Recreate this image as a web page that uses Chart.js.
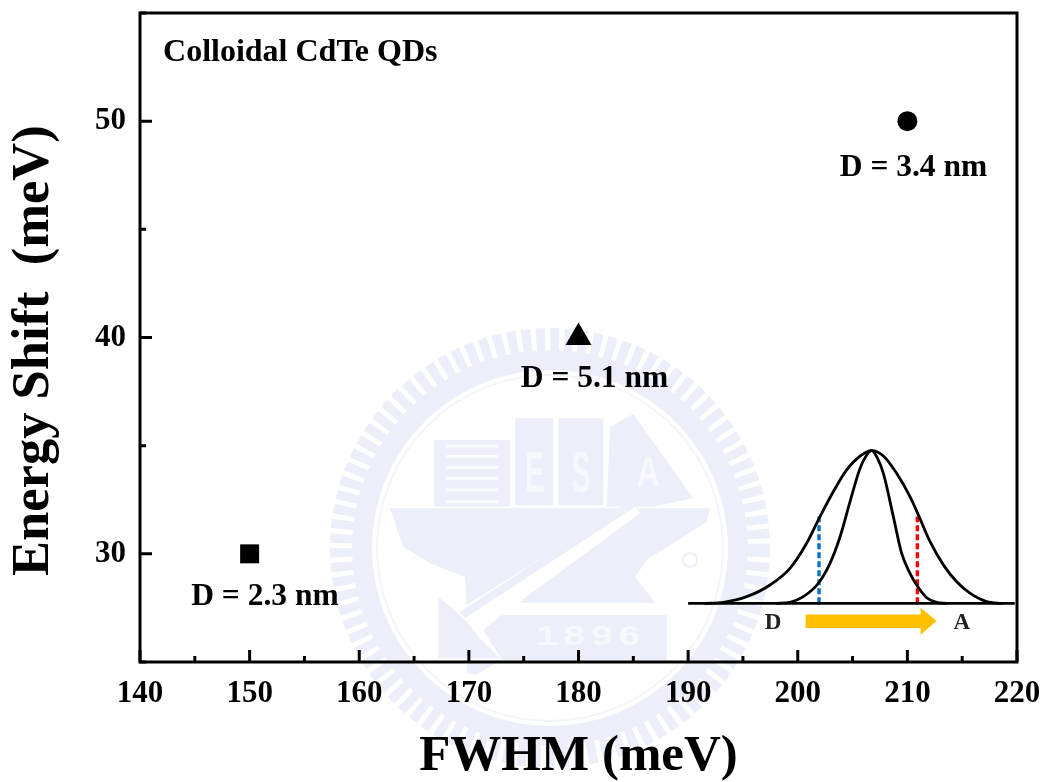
<!DOCTYPE html>
<html><head><meta charset="utf-8">
<style>html,body{margin:0;padding:0;background:#fff}canvas{display:block}</style>
<script src="https://cdn.jsdelivr.net/npm/chart.js@4"></script>
</head><body><canvas id="c" width="1048" height="782"></canvas>
<script>
const xLabelled = [140,150,160,170,180,190,200,210,220];
const yLabelled = [30,40,50];
const squarePoint = [{x:150,y:30}];
const circlePoint = [{x:210,y:50}];
const trianglePoint = [{x:180,y:40}];
const sizeLabels = ['D = 2.3 nm','D = 3.4 nm','D = 5.1 nm'];
const sizeLabelX = [151.4,210.56,181.46];
const sizeLabelY = [28.0,47.82,38.08];
const wideX = [191.5,193.21,195.34,197.47,199.29,200.81,202.03,203.25,204.46,205.68,206.74,207.81,209.02,210.24,211.0,212.07,213.28,214.5,215.71,217.23,218.7];
const wideY = [27.71,27.76,28.02,28.56,29.33,30.49,31.72,32.88,33.88,34.52,34.77,34.52,33.72,32.64,31.80,30.56,29.49,28.71,28.18,27.79,27.71];
const narrowX = [198,199.29,200.51,201.88,202.94,203.86,204.77,205.68,206.29,206.74,207.2,207.81,208.72,209.48,210.24,210.91,211.76,212.67,213.59];
const narrowY = [27.71,27.76,28.02,28.64,29.56,30.79,32.41,33.95,34.57,34.77,34.49,33.72,31.72,30.02,29.10,28.51,27.97,27.76,27.71];
const baseX = [190,219.8], baseY = [27.71,27.71];
const blueX = [201.94,201.94], blueY = [27.71,31.72];
const redX = [210.91,210.91], redY = [27.71,31.72];
const zip = (a,b)=>a.map((x,i)=>({x,y:b[i]}));
const SERIF = '"Liberation Serif"';

const wm = '#ECEFF9';
function poly(ctx,pts,fill){ctx.fillStyle=fill||wm;ctx.beginPath();
  pts.forEach((p,i)=>{const X=320+p[0]/3,Y=310+p[1]/3;i?ctx.lineTo(X,Y):ctx.moveTo(X,Y)});ctx.closePath();ctx.fill();}
function squeezed(ctx,s,x,y,k){ctx.save();ctx.translate(x,y);ctx.scale(k,1);ctx.fillText(s,0,0);ctx.restore();}
const plotFrame={id:'plotFrame',afterLayout(chart){
  const a=chart.chartArea,ys=chart.scales.y;
  a.top=13;a.height=a.bottom-13;
  ys.top=13;ys.height=a.bottom-13;ys.configure();
}};
const watermark={id:'watermark',beforeDraw(chart){
  const ctx=chart.ctx;ctx.save();ctx.fillStyle='#fff';ctx.fillRect(0,0,1048,782);
  const cx=550,cy=548;
  ctx.strokeStyle=wm;
  ctx.lineWidth=24;ctx.setLineDash([9,5]);ctx.beginPath();ctx.arc(cx,cy,208,0,Math.PI*2);ctx.stroke();
  ctx.setLineDash([]);ctx.lineWidth=20;ctx.beginPath();ctx.arc(cx,cy,188,0,Math.PI*2);ctx.stroke();
  ctx.lineWidth=2;ctx.strokeStyle='#F3F5FB';ctx.beginPath();ctx.arc(cx,cy,173,0,Math.PI*2);ctx.stroke();
  poly(ctx,[[342,390],[570,390],[570,590],[342,590]]);
  for(const y of [408,440,472,505,540,575]) poly(ctx,[[378,y-5],[535,y-5],[535,y+5],[378,y+5]],'#F9FAFD');
  poly(ctx,[[585,325],[700,325],[700,585],[585,585]]);
  poly(ctx,[[715,325],[850,325],[850,585],[715,585]]);
  poly(ctx,[[870,350],[940,312],[1120,565],[1000,590],[860,590]]);
  poly(ctx,[[210,595],[905,595],[440,885],[435,800],[330,760],[250,710]]);
  poly(ctx,[[1170,595],[1160,635],[1075,690],[985,745],[945,800],[1005,878],[595,878],[960,610],[950,595]]);
  poly(ctx,[[925,575],[945,590],[435,925],[420,905]]);
  poly(ctx,[[355,860],[430,925],[480,985],[540,1045],[355,1045]]);
  poly(ctx,[[490,960],[545,915],[1040,915],[1040,1050],[545,1050]]);
  poly(ctx,[[440,1050],[540,1050],[470,1095],[440,1090]]);
  ctx.fillStyle='#F7F8FD';ctx.textAlign='center';ctx.textBaseline='middle';
  ctx.font='bold 58px "Liberation Sans"';
  squeezed(ctx,'E',535,476,0.5);squeezed(ctx,'S',581,476,0.5);
  ctx.font='bold 42px "Liberation Sans"';squeezed(ctx,'A',648,474,0.75);
  ctx.font='bold 28px "Liberation Sans"';ctx.letterSpacing='4px';squeezed(ctx,'1896',591,637,1.4);ctx.letterSpacing='0px';
  ctx.strokeStyle=wm;ctx.lineWidth=2;ctx.beginPath();ctx.arc(690,560,7,0,Math.PI*2);ctx.stroke();
  ctx.restore();
}};

const furniture={id:'furniture',afterDatasetsDraw(chart){
  const ctx=chart.ctx,xs=chart.scales.x,ys=chart.scales.y,a=chart.chartArea;
  ctx.save();ctx.strokeStyle='#000';ctx.lineWidth=3;ctx.lineCap='butt';
  ctx.strokeRect(a.left,a.top,a.right-a.left,a.bottom-a.top);
  ctx.beginPath();
  xs.ticks.forEach(t=>{const p=xs.getPixelForValue(t.value),l=xLabelled.includes(t.value)?12:6;ctx.moveTo(p,a.bottom);ctx.lineTo(p,a.bottom-l);});
  ys.ticks.forEach(t=>{const p=ys.getPixelForValue(t.value),l=yLabelled.includes(t.value)?12:6;ctx.moveTo(a.left,p);ctx.lineTo(a.left+l,p);});
  ctx.stroke();
  ctx.fillStyle='#000';ctx.textBaseline='middle';ctx.textAlign='center';
  ctx.font='bold 31.5px '+SERIF;
  sizeLabels.forEach((s,i)=>ctx.fillText(s,xs.getPixelForValue(sizeLabelX[i]),ys.getPixelForValue(sizeLabelY[i])));
  ctx.textAlign='left';ctx.font='bold 32px '+SERIF;
  ctx.fillText('Colloidal CdTe QDs',xs.getPixelForValue(142.1),ys.getPixelForValue(53.15));
  ctx.textAlign='center';ctx.font='bold 23px '+SERIF;ctx.fillStyle='#222';
  ctx.fillText('D',xs.getPixelForValue(197.74),ys.getPixelForValue(26.82));
  ctx.fillText('A',xs.getPixelForValue(214.96),ys.getPixelForValue(26.82));
  const X=v=>xs.getPixelForValue(v),Y=v=>ys.getPixelForValue(v);
  ctx.fillStyle='#FFC000';ctx.beginPath();
  ctx.moveTo(X(200.72),Y(27.2));ctx.lineTo(X(211.21),Y(27.2));ctx.lineTo(X(211.21),Y(27.51));
  ctx.lineTo(X(212.67),Y(26.9));ctx.lineTo(X(211.21),Y(26.26));ctx.lineTo(X(211.21),Y(26.57));
  ctx.lineTo(X(200.72),Y(26.57));ctx.closePath();ctx.fill();
  ctx.restore();
}};

const curve=(data)=>({type:'scatter',data,showLine:true,borderColor:'#000',borderWidth:2.8,pointRadius:0,cubicInterpolationMode:'monotone',fill:false});
new Chart(document.getElementById('c'),{
  type:'scatter',
  data:{datasets:[
    curve(zip(baseX,baseY)),curve(zip(wideX,wideY)),curve(zip(narrowX,narrowY)),
    {type:'scatter',data:zip(blueX,blueY),showLine:true,borderColor:'#0070C0',borderWidth:3.4,borderDash:[6,3],pointRadius:0},
    {type:'scatter',data:zip(redX,redY),showLine:true,borderColor:'#FF0000',borderWidth:3.4,borderDash:[6,3],pointRadius:0},
    {label:'2.3',data:squarePoint,pointStyle:'rect',pointRadius:13.4,backgroundColor:'#000',borderColor:'#000',borderWidth:0},
    {label:'3.4',data:circlePoint,pointStyle:'circle',pointRadius:10,backgroundColor:'#000',borderColor:'#000',borderWidth:0},
    {label:'5.1',data:trianglePoint,pointStyle:'triangle',pointRadius:15,backgroundColor:'#000',borderColor:'#000',borderWidth:0}
  ]},
  options:{
    responsive:false,animation:false,
    layout:{padding:{top:11,right:31,left:0,bottom:0}},
    plugins:{legend:{display:false},tooltip:{enabled:false}},
    scales:{
      x:{type:'linear',min:140,max:220,afterFit(s){s.height=120;s.paddingLeft=0;s.paddingRight=0},
        grid:{display:false,drawTicks:false},border:{display:false},
        ticks:{stepSize:5,autoSkip:false,maxRotation:0,padding:13,color:'#000',font:{family:SERIF,weight:'bold',size:31},
          callback:v=>xLabelled.includes(v)?String(v):''},
        title:{display:true,text:'FWHM (meV)',color:'#000',font:{family:SERIF,weight:'bold',size:51},padding:{top:10,bottom:-5}}},
      y:{type:'linear',min:25,max:55,afterFit(s){s.width=140;s.paddingTop=0;s.paddingBottom=0},
        grid:{display:false,drawTicks:false},border:{display:false},
        ticks:{stepSize:5,autoSkip:false,padding:14,color:'#000',font:{family:SERIF,weight:'bold',size:31},
          callback:v=>yLabelled.includes(v)?String(v):''},
        title:{display:true,text:'Energy Shift  (meV)  ',color:'#000',font:{family:SERIF,weight:'bold',size:52.5},padding:{top:3,bottom:0}}}
    }
  },
  plugins:[plotFrame,watermark,furniture]
});
</script></body></html>
